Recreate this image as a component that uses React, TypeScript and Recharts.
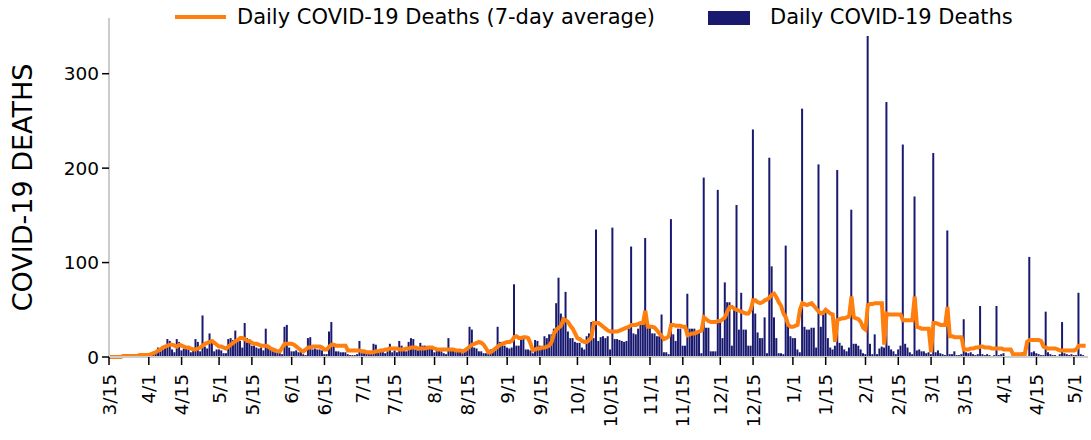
import { ComposedChart, Bar, Line, XAxis, YAxis, Legend } from "recharts"

// day 0 = 3/15/2020
const tickDays = [0, 17, 31, 47, 61, 78, 92, 108, 122, 139, 153, 170, 184, 200, 214, 231, 245, 261, 275, 292, 306, 323, 337, 351, 365, 382, 396, 412]
const tickLabels = ["3/15", "4/1", "4/15", "5/1", "5/15", "6/1", "6/15", "7/1", "7/15", "8/1", "8/15", "9/1", "9/15", "10/1", "10/15", "11/1", "11/15", "12/1", "12/15", "1/1", "1/15", "2/1", "2/15", "3/1", "3/15", "4/1", "4/15", "5/1"]

const deaths = [
  0, 0, 0, 0, 1, 0, 1, 1, 0, 1, 2, 1, 1, 2, 3, 2, 3, // 3/15
  3, 2, 4, 5, 10, 6, 8, 12, 19, 17, 8, 5, 19, 16, 7, // 4/1
  9, 10, 8, 5, 8, 19, 16, 6, 44, 11, 9, 25, 17, 6, 8, 8, // 4/16
  7, 4, 4, 19, 20, 18, 28, 18, 17, 10, 36, 20, 16, 12, 12, // 5/2
  10, 9, 10, 7, 30, 10, 8, 6, 5, 5, 4, 3, 32, 34, 10, // 5/17
  6, 6, 7, 5, 6, 3, 2, 20, 21, 8, 9, 8, 8, 7, 3, // 6/1
  3, 27, 37, 12, 6, 6, 5, 5, 5, 3, 2, 2, 2, 3, 17, // 6/16
  4, 4, 5, 3, 3, 14, 13, 5, 8, 8, 4, 6, 14, 5, 7, // 7/1
  5, 17, 12, 8, 6, 16, 20, 19, 8, 7, 15, 12, 12, 11, 9, // 7/16
  9, 5, 9, 9, 6, 4, 3, 20, 8, 8, 7, 8, 7, 4, 8, // 7/31
  8, 32, 29, 10, 9, 6, 6, 4, 4, 3, 8, 8, 7, 32, 16, // 8/15
  16, 12, 10, 9, 10, 77, 12, 12, 19, 19, 8, 8, 7, 4, 18, // 8/30
  17, 12, 10, 22, 20, 24, 24, 30, 57, 84, 46, 40, 69, 27, 20, // 9/14
  20, 16, 15, 15, 10, 8, 22, 25, 37, 20, 135, 17, 21, 22, 20, // 9/29
  22, 8, 137, 19, 19, 18, 17, 16, 17, 30, 117, 25, 24, 30, 35, // 10/14
  35, 126, 32, 32, 25, 25, 22, 22, 45, 5, 5, 3, 146, 24, 17, // 10/29
  30, 30, 12, 12, 67, 30, 30, 30, 26, 26, 4, 190, 31, 31, 6, // 11/13
  6, 6, 177, 39, 20, 79, 58, 58, 12, 53, 161, 29, 68, 29, 29, // 11/28
  12, 12, 241, 46, 26, 20, 20, 42, 4, 211, 96, 42, 20, 4, 4, // 12/13
  3, 118, 34, 22, 20, 20, 8, 5, 263, 32, 29, 29, 31, 31, 10, // 12/28
  204, 32, 45, 48, 20, 10, 8, 12, 198, 15, 12, 8, 6, 10, 156, // 1/12
  14, 14, 12, 8, 4, 3, 340, 14, 3, 24, 3, 9, 11, 10, 270, // 1/27
  12, 8, 6, 3, 8, 12, 225, 14, 10, 5, 3, 170, 7, 8, 6, // 2/11
  6, 4, 5, 3, 216, 5, 7, 4, 3, 2, 134, 3, 3, 6, 2, // 2/26
  2, 3, 40, 5, 4, 5, 3, 2, 3, 54, 3, 2, 3, 2, 1, // 3/13
  2, 54, 2, 3, 4, 1, 0, 1, 2, 1, 0, 1, 5, 2, 1, // 3/28
  106, 5, 6, 4, 3, 2, 2, 48, 5, 3, 2, 2, 1, 3, 37, 4, 3, 2, 3, 2, 2, 68, 3, 2, 1, // 4/12
]

const avg7 = [
  0, 0, 0, 0, 0, 0, 1, 1, 1, 1, 1, 1, 1, 2, 2, 2, 2,
  2, 3, 4, 5, 7, 8, 10, 11, 12, 13, 13, 12, 11, 13, 12,
  11, 10, 10, 9, 8, 8, 9, 10, 12, 14, 15, 16, 17, 15, 13, 11,
  11, 10, 9, 11, 13, 15, 17, 18, 20, 20, 19, 17, 17, 15, 14,
  14, 13, 12, 12, 12, 11, 9, 8, 7, 6, 6, 10, 14, 14, 14,
  14, 13, 11, 9, 7, 6, 8, 10, 10, 11, 11, 11, 11, 10, 8,
  8, 11, 13, 13, 12, 12, 12, 12, 12, 7, 7, 7, 7, 7, 7,
  6, 6, 5, 5, 5, 5, 6, 6, 7, 7, 8, 8, 9, 9, 9,
  9, 8, 8, 8, 9, 9, 10, 10, 10, 9, 9, 9, 9, 10, 10,
  10, 9, 8, 8, 8, 8, 8, 8, 8, 8, 7, 7, 7, 6, 7,
  9, 11, 13, 14, 15, 16, 15, 13, 9, 5, 5, 7, 9, 11, 13,
  14, 15, 16, 16, 17, 21, 22, 20, 20, 21, 21, 20, 14, 7, 8,
  9, 9, 10, 10, 11, 12, 16, 25, 29, 31, 33, 40, 39, 37, 33,
  30, 25, 20, 19, 17, 16, 16, 18, 21, 36, 36, 36, 34, 32, 30,
  28, 27, 27, 27, 27, 28, 29, 30, 31, 32, 34, 34, 34, 35, 36,
  36, 49, 32, 32, 32, 31, 28, 25, 22, 19, 20, 22, 34, 34, 33,
  33, 33, 32, 32, 23, 24, 25, 25, 26, 27, 28, 42, 40, 38, 37,
  37, 37, 38, 38, 40, 42, 48, 53, 53, 51, 50, 49, 48, 47, 46,
  46, 50, 60, 60, 58, 57, 58, 60, 61, 63, 66, 67, 63, 58, 54,
  46, 42, 34, 32, 32, 33, 34, 50, 57, 56, 55, 56, 57, 54, 51,
  48, 46, 47, 50, 48, 46, 45, 16, 39, 40, 41, 41, 42, 43, 64,
  42, 41, 40, 37, 31, 29, 55, 56, 56, 57, 57, 57, 57, 13, 46,
  45, 45, 45, 45, 45, 45, 39, 39, 39, 39, 39, 64, 32, 31, 30,
  30, 30, 30, 5, 36, 36, 35, 34, 34, 34, 53, 22, 22, 21, 21,
  21, 21, 8, 8, 8, 9, 9, 10, 10, 11, 11, 10, 10, 10, 9,
  9, 9, 9, 9, 8, 8, 8, 8, 3, 3, 3, 3, 3, 3, 16,
  18, 18, 18, 18, 18, 17, 11, 10, 9, 9, 9, 9, 8, 7, 7, 7, 7, 7, 7, 7, 8, 12, 12, 12, 12,
]

const NAVY = "#191970"
const ORANGE = "#ff7f0e"
const FONT = "'DejaVu Sans', sans-serif"

const data = deaths.map((v, i) => ({ day: i, deaths: v, avg: avg7[i] }))

function XTick({ x, y, payload }: any) {
  const label = tickLabels[tickDays.indexOf(payload.value)]
  return (
    <text
      x={x}
      y={y}
      transform={`rotate(-90, ${x}, ${y})`}
      textAnchor="end"
      dy="0.36em"
      fontSize={18.5}
      fill="#000"
      fontFamily={FONT}
    >
      {label}
    </text>
  )
}

function LegendBox() {
  return (
    <div style={{ position: "relative", width: 1091, height: 36, fontFamily: FONT, fontSize: 21, lineHeight: "21px", color: "#000" }}>
      <div style={{ position: "absolute", left: 175, top: 15, width: 51, height: 4, background: ORANGE }} />
      <div style={{ position: "absolute", left: 237, top: 7, whiteSpace: "nowrap" }}>Daily COVID-19 Deaths (7-day average)</div>
      <div style={{ position: "absolute", left: 708, top: 11, width: 42, height: 14, background: NAVY }} />
      <div style={{ position: "absolute", left: 770, top: 7, whiteSpace: "nowrap" }}>Daily COVID-19 Deaths</div>
    </div>
  )
}

export default function App() {
  return (
    <div style={{ position: "absolute", left: 0, top: 0, width: 1091, height: 440, background: "#fff", fontFamily: FONT }}>
      <ComposedChart width={1091} height={440} data={data} margin={{ top: 18, right: 3, bottom: 0, left: 0 }}>
        <XAxis
          dataKey="day"
          type="number"
          domain={[0, 418]}
          ticks={tickDays}
          interval={0}
          height={83}
          tick={<XTick />}
          tickSize={8}
          tickMargin={9}
          tickLine={{ stroke: "#000", strokeWidth: 1.5 }}
          axisLine={{ stroke: "#cccccc", strokeWidth: 2 }}
        />
        <YAxis
          width={109}
          domain={[0, 359]}
          ticks={[0, 100, 200, 300]}
          tickSize={7}
          tickMargin={3}
          tick={{ fill: "#000", fontSize: 18.5, fontFamily: FONT }}
          tickLine={{ stroke: "#000", strokeWidth: 1.5 }}
          axisLine={{ stroke: "#cccccc", strokeWidth: 2 }}
          label={{
            value: "COVID-19 DEATHS",
            angle: -90,
            position: "insideLeft",
            offset: 22,
            style: { textAnchor: "middle", fill: "#000", fontSize: 27, fontFamily: FONT },
          }}
        />
        <Legend
          verticalAlign="middle"
          layout="horizontal"
          wrapperStyle={{ top: 0, left: 0, width: 1091, height: 36 }}
          content={() => <LegendBox />}
        />
        <Bar dataKey="deaths" name="Daily COVID-19 Deaths" fill={NAVY} barSize={2} isAnimationActive={false} />
        <Line
          dataKey="avg"
          name="Daily COVID-19 Deaths (7-day average)"
          type="linear"
          stroke={ORANGE}
          strokeWidth={4}
          dot={false}
          isAnimationActive={false}
        />
      </ComposedChart>
    </div>
  )
}
